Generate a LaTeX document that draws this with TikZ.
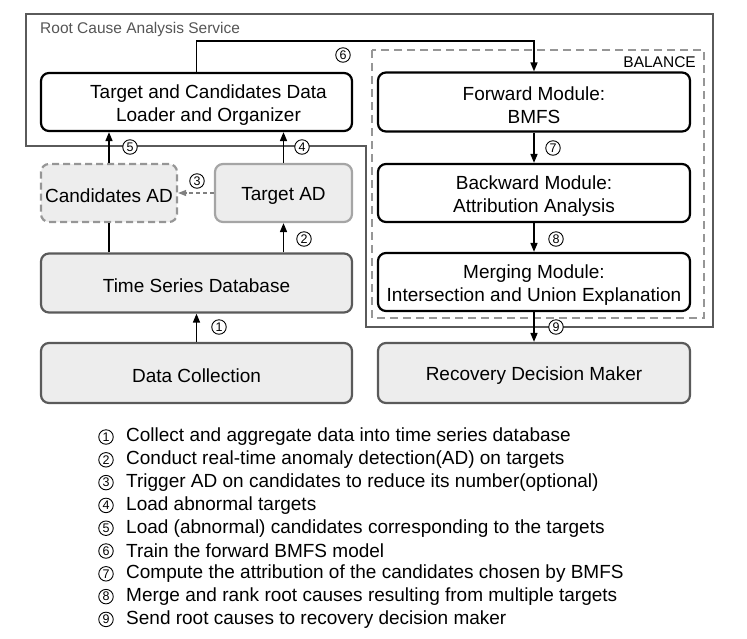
\documentclass[tikz,border=0pt]{standalone}
\usepackage{fontspec}
\setmainfont{Liberation Sans}
\usetikzlibrary{arrows.meta}
\definecolor{gfill}{RGB}{237,237,237}
\definecolor{gdark}{RGB}{90,90,90}
\definecolor{glight}{RGB}{165,165,165}
\definecolor{gdash}{RGB}{150,150,150}
\definecolor{gtext}{RGB}{85,85,85}
\newcommand{\tallstrut}{\rule{0pt}{19.5pt}}
\begin{document}
\begin{tikzpicture}[x=1pt,y=-1pt,
  box/.style={draw=black, line width=2.2pt, rounded corners=8pt, fill=white, align=center, font=\fontsize{19}{23}\selectfont, inner sep=0pt},
  gbox/.style={box, draw=gdark, fill=gfill},
  conn/.style={line width=1.6pt, -{Triangle[length=9pt,width=7pt]}},
  num/.style={circle, draw, line width=0.9pt, inner sep=0pt, minimum size=14.5pt, font=\fontsize{12.5}{12.5}\selectfont, fill=white},
  legend/.style={anchor=west, inner sep=0pt, font=\fontsize{19}{23}\selectfont}
]
\useasboundingbox (0,0) rectangle (747,638);
% outer service frame
\draw[gdark, line width=2pt] (26,14) -- (713,14) -- (713,327) -- (366,327) -- (366,146) -- (26,146) -- cycle;
\node[anchor=west, text=gtext, inner sep=0pt, font=\fontsize{15.5}{18}\selectfont] (svc) at (40,29) {Root Cause Analysis Service};
% balance frame
\draw[gdash, line width=2pt, dash pattern=on 8pt off 5pt] (372,50) rectangle (704,318);
\node[anchor=east, inner sep=0pt, font=\fontsize{15.5}{18}\selectfont] (bal) at (696,62) {BALANCE};
% boxes
\node[box, minimum width=311pt, minimum height=58pt] (loader) at (196.5,102)
  {\tallstrut\hspace*{24pt}Target and Candidates Data\\\hspace*{24pt}Loader and Organizer};
\node[gbox, draw=gdash, dash pattern=on 7pt off 4pt, minimum width=136pt, minimum height=58pt] (cand) at (109,193) {\tallstrut Candidates AD};
\node[gbox, draw=glight, minimum width=137pt, minimum height=58pt] (tgt) at (283.5,193) {\tallstrut Target AD};
\node[gbox, minimum width=311pt, minimum height=59pt] (tsd) at (196.5,283) {\tallstrut Time Series Database};
\node[gbox, minimum width=311pt, minimum height=60pt] (dc) at (196.5,373) {\tallstrut Data Collection};
\node[box, minimum width=312pt, minimum height=59pt] (fwd) at (534,102) {\tallstrut Forward Module:\\BMFS};
\node[box, minimum width=312pt, minimum height=58pt] (bwd) at (534,193) {\tallstrut Backward Module:\\Attribution Analysis};
\node[box, minimum width=312pt, minimum height=58pt] (mrg) at (534,282) {\tallstrut Merging Module:\\Intersection and Union Explanation};
\node[gbox, minimum width=312pt, minimum height=60pt] (rec) at (534,373) {\tallstrut Recovery Decision Maker};
% connectors
\coordinate (c6) at (534,41);
\draw[conn] (dc.north) -- (tsd.south);
\draw[conn] (tgt.south |- tsd.north) -- (tgt.south);
\draw[line width=1.6pt] (cand.south |- tsd.north) -- (cand.south);
\draw[conn] (cand.north) -- (cand.north |- loader.south);
\draw[conn] (tgt.north) -- (tgt.north |- loader.south);
\draw[line width=1.3pt, gray, dash pattern=on 4pt off 3pt, -{Triangle[length=8pt,width=6pt]}] (tgt.west) -- (cand.east);
\draw[conn] (loader.north) |- (c6) -- (fwd.north);
\draw[conn] (fwd) -- (bwd);
\draw[conn] (bwd) -- (mrg);
\draw[conn] (mrg) -- (rec);
% step numbers
\node[num] (n1) at (219,327) {1};
\node[num] (n2) at (304,239) {2};
\node[num] (n3) at (197,181) {3};
\node[num] (n4) at (302,147) {4};
\node[num] (n5) at (130,147) {5};
\node[num] (n6) at (343,55) {6};
\node[num] (n7) at (553,148) {7};
\node[num] (n8) at (556,239) {8};
\node[num] (n9) at (556,327) {9};
% legend
\node[num] (l1) at (106,437) {1};
\node[num] (l2) at (106,459.8) {2};
\node[num] (l3) at (106,482.6) {3};
\node[num] (l4) at (106,505.4) {4};
\node[num] (l5) at (106,528.2) {5};
\node[num] (l6) at (106,551) {6};
\node[num] (l7) at (106,573.8) {7};
\node[num] (l8) at (106,596.6) {8};
\node[num] (l9) at (106,619.4) {9};
\node[legend] (t1) at (126,437) {Collect and aggregate data into time series database};
\node[legend] (t2) at (126,459.8) {Conduct real-time anomaly detection(AD) on targets};
\node[legend] (t3) at (126,482.6) {Trigger AD on candidates to reduce its number(optional)};
\node[legend] (t4) at (126,505.4) {Load abnormal targets};
\node[legend] (t5) at (126,528.2) {Load (abnormal) candidates corresponding to the targets};
\node[legend] (t6) at (126,551) {Train the forward BMFS model};
\node[legend] (t7) at (126,573.8) {Compute the attribution of the candidates chosen by BMFS};
\node[legend] (t8) at (126,596.6) {Merge and rank root causes resulting from multiple targets};
\node[legend] (t9) at (126,619.4) {Send root causes to recovery decision maker};
\end{tikzpicture}
\end{document}
